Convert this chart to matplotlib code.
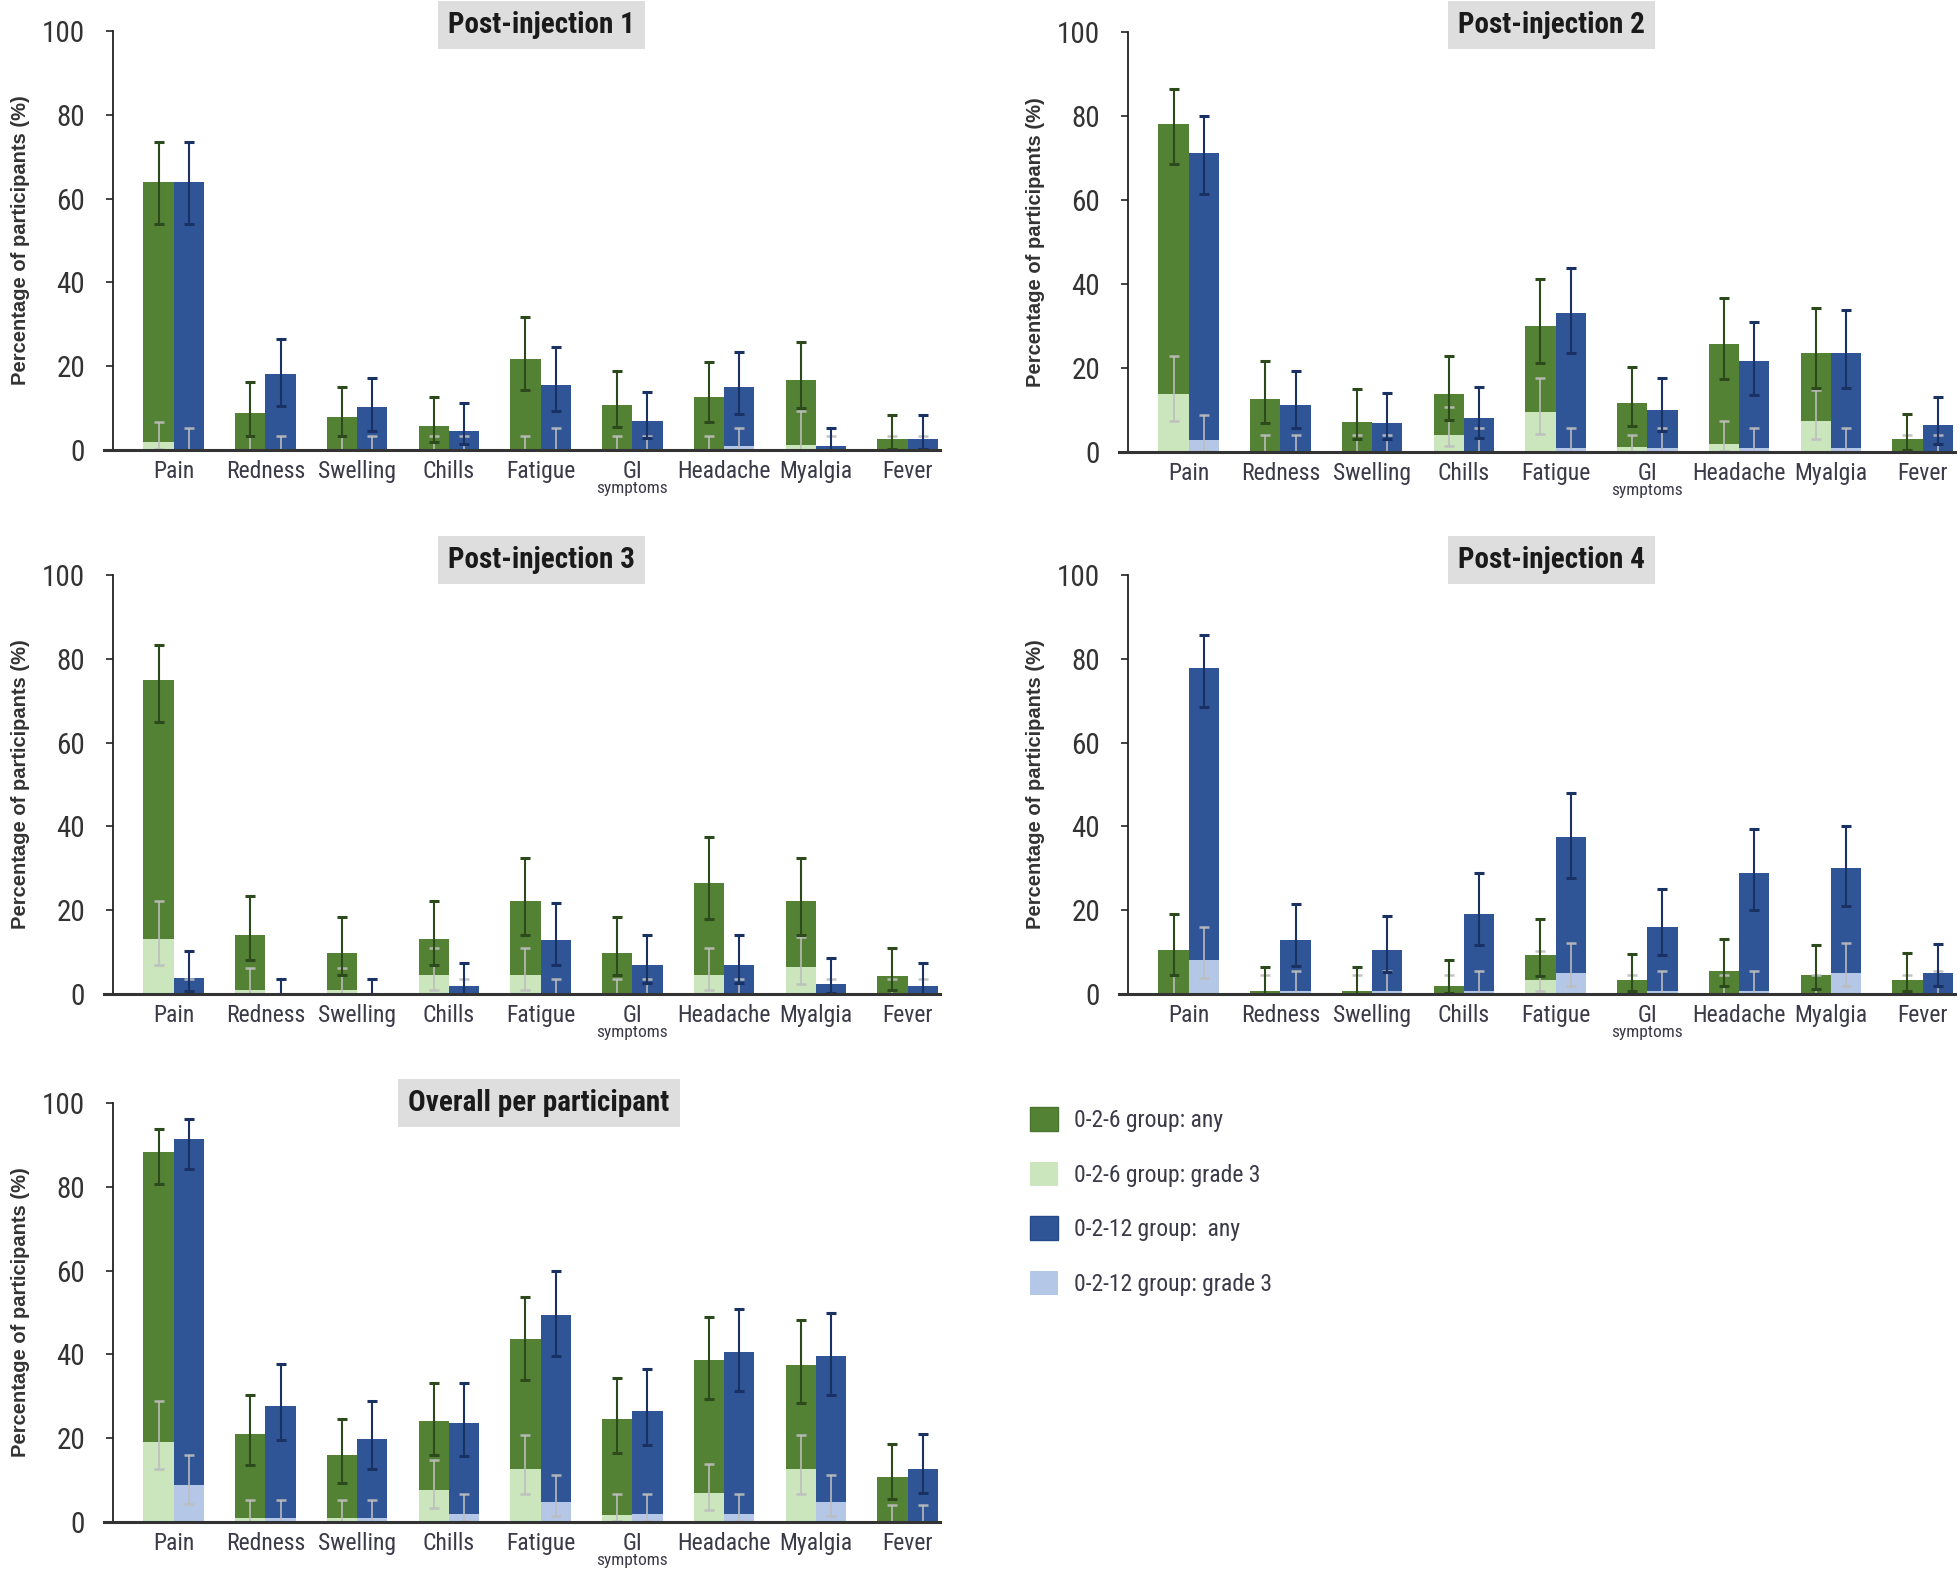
import matplotlib
matplotlib.use("Agg")
import matplotlib.pyplot as plt
from matplotlib.patches import Patch
import numpy as np

plt.rcParams['font.family'] = ['Liberation Sans Narrow', 'Roboto Condensed', 'DejaVu Sans']

categories = ["Pain", "Redness", "Swelling", "Chills", "Fatigue", "GI", "Headache", "Myalgia", "Fever"]
titles = ["Post-injection 1", "Post-injection 2", "Post-injection 3", "Post-injection 4", "Overall per participant"]
legend_labels = ["0-2-6 group: any", "0-2-6 group: grade 3", "0-2-12 group:  any", "0-2-12 group: grade 3"]

# ---- Post-injection 1 ----
p1_g_any = [64, 8.8, 7.8, 5.8, 21.7, 10.7, 12.7, 16.8, 2.6]
p1_g_lo = [54, 3.4, 3.4, 1.8, 14.3, 5.6, 6.8, 10.0, 0.3]
p1_g_hi = [73.5, 16.3, 15.1, 12.6, 31.8, 18.8, 21.1, 25.7, 8.3]
p1_g3 = [2.0, 0, 0, 0, 0, 0, 0, 1.2, 0]
p1_g3_lo = [0.2, 0, 0, 0, 0, 0, 0, 0.1, 0]
p1_g3_hi = [6.8, 3.4, 3.4, 3.4, 3.4, 3.4, 3.4, 9.2, 3.4]
p1_b_any = [64, 18.1, 10.2, 4.6, 15.6, 7.0, 15.0, 1.0, 2.6]
p1_b_lo = [54, 10.6, 4.6, 1.4, 9.2, 2.9, 8.6, 0.1, 0.3]
p1_b_hi = [73.5, 26.6, 17.3, 11.2, 24.6, 13.8, 23.5, 5.2, 8.3]
p1_b3 = [0, 0, 0, 0, 0, 0, 1.0, 0, 0]
p1_b3_lo = [0, 0, 0, 0, 0, 0, 0.1, 0, 0]
p1_b3_hi = [5.2, 3.4, 3.4, 3.4, 5.2, 3.4, 5.2, 3.4, 3.4]

# ---- Post-injection 2 ----
p2_g_any = [78.1, 12.7, 7.2, 13.7, 30.0, 11.7, 25.8, 23.6, 3.0]
p2_g_lo = [68.6, 6.8, 3.2, 7.6, 21.1, 6.1, 17.3, 15.3, 0.5]
p2_g_hi = [86.4, 21.6, 15.1, 22.8, 41.3, 20.3, 36.7, 34.4, 9.1]
p2_g3 = [13.8, 0, 0, 4.0, 9.5, 1.2, 2.0, 7.4, 0]
p2_g3_lo = [7.4, 0, 0, 1.4, 4.4, 0.1, 0.2, 3.2, 0]
p2_g3_hi = [22.8, 4.0, 4.0, 10.7, 17.7, 4.0, 7.4, 14.7, 4.0]
p2_b_any = [71.3, 11.3, 6.9, 8.2, 33.2, 10.1, 21.7, 23.6, 6.4]
p2_b_lo = [61.4, 5.6, 3.2, 3.4, 23.6, 5.0, 13.5, 15.3, 2.0]
p2_b_hi = [80.0, 19.3, 14.1, 15.5, 43.7, 17.7, 31.0, 33.9, 13.1]
p2_b3 = [2.8, 0, 0, 0, 1.0, 1.0, 1.0, 1.0, 0]
p2_b3_lo = [0.3, 0, 0, 0, 0.1, 0.1, 0.1, 0.1, 0]
p2_b3_hi = [8.7, 4.0, 4.0, 5.6, 5.6, 5.6, 5.6, 5.6, 4.0]

# ---- Post-injection 3 ----
p3_g_any = [74.9, 14.2, 9.8, 13.1, 22.2, 9.8, 26.5, 22.2, 4.2]
p3_g_lo = [64.8, 8.0, 4.6, 7.0, 14.0, 4.6, 17.9, 14.0, 1.0]
p3_g_hi = [83.3, 23.5, 18.3, 22.2, 32.4, 18.3, 37.5, 32.4, 11.0]
p3_g3 = [13.1, 0.9, 0.9, 4.6, 4.6, 0, 4.6, 6.5, 0]
p3_g3_lo = [7.0, 0, 0, 1.0, 1.0, 0, 1.0, 2.5, 0]
p3_g3_hi = [22.2, 6.2, 6.2, 11.0, 11.0, 3.6, 11.0, 13.5, 3.6]
p3_b_any = [3.8, 0, 0, 2.0, 13.0, 6.9, 6.9, 2.5, 2.0]
p3_b_lo = [0.6, 0, 0, 0.1, 7.0, 2.6, 2.6, 0.3, 0.1]
p3_b_hi = [10.2, 3.6, 3.6, 7.3, 21.6, 14.0, 14.0, 8.6, 7.3]
p3_b3 = [0, 0, 0, 0, 0, 0, 0, 0, 0]
p3_b3_lo = [0, 0, 0, 0, 0, 0, 0, 0, 0]
p3_b3_hi = [3.6, 3.6, 3.6, 3.6, 3.6, 3.6, 3.6, 3.6, 3.6]

# ---- Post-injection 4 ----
p4_g_any = [10.4, 0.8, 0.8, 1.8, 9.2, 3.3, 5.6, 4.5, 3.3]
p4_g_lo = [4.5, 0.1, 0.1, 0.2, 4.2, 0.6, 2.0, 1.2, 0.6]
p4_g_hi = [19.2, 6.5, 6.5, 8.0, 17.9, 9.6, 13.2, 11.6, 9.8]
p4_g3 = [0, 0, 0, 0, 3.3, 0, 0, 0, 0]
p4_g3_lo = [0, 0, 0, 0, 0.6, 0, 0, 0, 0]
p4_g3_hi = [4.5, 4.5, 4.5, 4.5, 10.2, 4.5, 4.5, 4.5, 4.5]
p4_b_any = [77.9, 13.0, 10.6, 19.1, 37.5, 16.0, 28.9, 30.1, 5.0]
p4_b_lo = [68.6, 6.6, 5.3, 11.6, 27.7, 9.2, 20.0, 21.0, 2.0]
p4_b_hi = [85.7, 21.4, 18.6, 28.8, 47.9, 25.1, 39.3, 40.2, 12.0]
p4_b3 = [8.2, 0.8, 0.8, 0.8, 5.0, 0.8, 0.8, 5.0, 0]
p4_b3_lo = [3.8, 0, 0, 0, 2.0, 0, 0, 2.0, 0]
p4_b3_hi = [15.9, 5.6, 5.6, 5.6, 12.2, 5.6, 5.6, 12.2, 5.6]

# ---- Overall per participant ----
p5_g_any = [88.4, 21.1, 16.1, 24.0, 43.7, 24.6, 38.7, 37.5, 10.7]
p5_g_lo = [80.7, 13.5, 9.3, 15.9, 33.8, 16.5, 29.4, 28.4, 5.6]
p5_g_hi = [93.8, 30.2, 24.5, 33.2, 53.8, 34.3, 49.0, 48.1, 18.5]
p5_g3 = [19.2, 1.0, 1.0, 7.7, 12.7, 1.6, 7.0, 12.7, 0]
p5_g3_lo = [12.6, 0.1, 0.1, 3.4, 6.8, 0.2, 2.9, 6.8, 0]
p5_g3_hi = [28.9, 5.3, 5.3, 14.9, 20.8, 6.8, 13.9, 20.8, 4.0]
p5_b_any = [91.4, 27.7, 19.7, 23.7, 49.5, 26.6, 40.5, 39.5, 12.7]
p5_b_lo = [84.3, 19.5, 12.6, 15.7, 39.5, 18.4, 31.2, 30.2, 6.9]
p5_b_hi = [96.2, 37.6, 28.9, 33.2, 59.9, 36.6, 50.9, 49.9, 20.9]
p5_b3 = [8.9, 1.0, 1.0, 2.0, 4.8, 2.0, 2.0, 4.8, 0]
p5_b3_lo = [4.2, 0.1, 0.1, 0.3, 1.5, 0.3, 0.3, 1.5, 0]
p5_b3_hi = [16.1, 5.3, 5.3, 6.8, 11.1, 6.8, 6.8, 11.1, 4.0]

panels = [
    (p1_g_any, p1_g_lo, p1_g_hi, p1_g3, p1_g3_lo, p1_g3_hi, p1_b_any, p1_b_lo, p1_b_hi, p1_b3, p1_b3_lo, p1_b3_hi),
    (p2_g_any, p2_g_lo, p2_g_hi, p2_g3, p2_g3_lo, p2_g3_hi, p2_b_any, p2_b_lo, p2_b_hi, p2_b3, p2_b3_lo, p2_b3_hi),
    (p3_g_any, p3_g_lo, p3_g_hi, p3_g3, p3_g3_lo, p3_g3_hi, p3_b_any, p3_b_lo, p3_b_hi, p3_b3, p3_b3_lo, p3_b3_hi),
    (p4_g_any, p4_g_lo, p4_g_hi, p4_g3, p4_g3_lo, p4_g3_hi, p4_b_any, p4_b_lo, p4_b_hi, p4_b3, p4_b3_lo, p4_b3_hi),
    (p5_g_any, p5_g_lo, p5_g_hi, p5_g3, p5_g3_lo, p5_g3_hi, p5_b_any, p5_b_lo, p5_b_hi, p5_b3, p5_b3_lo, p5_b3_hi),
]

G_ANY = '#548235'
G_G3 = '#cbe5bd'
B_ANY = '#2f5597'
B_G3 = '#b4c7e7'
G_ERR = '#2c4a1c'
B_ERR = '#1a3263'
L_ERR = '#bdbdbd'
TXT = '#3a3a48'

W, H = 1960, 1581
fig = plt.figure(figsize=(W / 100, H / 100), dpi=100)

# axes boxes in pixels: left, right, top, bottom
boxes = [(104, 940, 31, 450), (1119, 1955, 32, 452),
         (104, 940, 575, 994), (1119, 1955, 575, 994),
         (104, 940, 1103, 1522)]
title_pos = [(0.523, 1.014), (0.517, 1.017), (0.523, 1.036), (0.517, 1.036), (0.52, 1.0)]

bw = 0.33
x = np.arange(len(categories))

for i, (box, data) in enumerate(zip(boxes, panels)):
    l, r, t, b = box
    ax = fig.add_axes([l / W, 1 - b / H, (r - l) / W, (b - t) / H])
    g_any, g_lo, g_hi, g3, g3_lo, g3_hi, b_any, b_lo, b_hi, b3, b3_lo, b3_hi = [np.array(d, float) for d in data]
    xg = x - bw / 2
    xb = x + bw / 2
    ax.bar(xg, g_any, width=bw, color=G_ANY, zorder=2)
    ax.bar(xb, b_any, width=bw, color=B_ANY, zorder=2)
    ax.bar(xg, g3, width=bw, color=G_G3, zorder=3)
    ax.bar(xb, b3, width=bw, color=B_G3, zorder=3)
    ax.errorbar(xg, g3, yerr=[g3 - g3_lo, g3_hi - g3], fmt='none', ecolor=L_ERR,
                elinewidth=1.3, capsize=3.5, capthick=1.8, zorder=4, alpha=0.9)
    ax.errorbar(xb, b3, yerr=[b3 - b3_lo, b3_hi - b3], fmt='none', ecolor=L_ERR,
                elinewidth=1.3, capsize=3.5, capthick=1.8, zorder=4, alpha=0.9)
    ax.errorbar(xg, g_any, yerr=[g_any - g_lo, g_hi - g_any], fmt='none', ecolor=G_ERR,
                elinewidth=1.5, capsize=3.5, capthick=2.2, zorder=5)
    ax.errorbar(xb, b_any, yerr=[b_any - b_lo, b_hi - b_any], fmt='none', ecolor=B_ERR,
                elinewidth=1.5, capsize=3.5, capthick=2.2, zorder=5)

    ax.set_xlim(-0.76, 8.354)
    ax.set_ylim(0, 100)
    ax.spines['top'].set_visible(False)
    ax.spines['right'].set_visible(False)
    ax.spines['left'].set_position(('data', -0.665))
    ax.spines['left'].set_linewidth(1.3)
    ax.spines['left'].set_color('#222222')
    ax.spines['bottom'].set_linewidth(2.2)
    ax.spines['bottom'].set_color('#333333')
    ax.spines['bottom'].set_zorder(6)
    ax.set_yticks([0, 20, 40, 60, 80, 100])
    ax.tick_params(axis='y', labelsize=21, length=5, width=1.2, colors='#222222', pad=15)
    for tl in ax.get_yticklabels():
        tl.set_color('#333333')
    ax.set_xticks(x)
    ax.set_xticklabels(categories, fontsize=17, color=TXT)
    ax.tick_params(axis='x', length=0, pad=7)
    ax.annotate("symptoms", xy=(x[categories.index("GI")], 0), xycoords=('data', 'axes fraction'),
                xytext=(0, -28), textcoords='offset points', ha='center', va='center',
                fontsize=12.5, color=TXT)
    ax.set_ylabel("Percentage of participants (%)", fontsize=14.5, fontweight='bold',
                  family=['Liberation Sans', 'DejaVu Sans'], color='#333333')
    ax.yaxis.set_label_coords(-0.089, 0.5)
    tx, ty = title_pos[i]
    ax.text(tx, ty, titles[i], transform=ax.transAxes, ha='center', va='center',
            fontsize=21, fontweight='bold', color='#1a1a1a',
            bbox=dict(boxstyle='square,pad=0.35', facecolor='#dedede', edgecolor='none'))

handles = [Patch(facecolor=G_ANY, edgecolor='#4a7530'), Patch(facecolor=G_G3, edgecolor='none'),
           Patch(facecolor=B_ANY, edgecolor='#254a8a'), Patch(facecolor=B_G3, edgecolor='none')]
fig.legend(handles, legend_labels, loc='upper left', bbox_to_anchor=(1030 / W, 1 - 1107 / H),
           frameon=False, fontsize=17, handlelength=1.2, handleheight=1.2, labelspacing=1.25,
           handletextpad=0.65, borderpad=0, borderaxespad=0, labelcolor=TXT)

fig.savefig("out.png", dpi=100, facecolor='white')
